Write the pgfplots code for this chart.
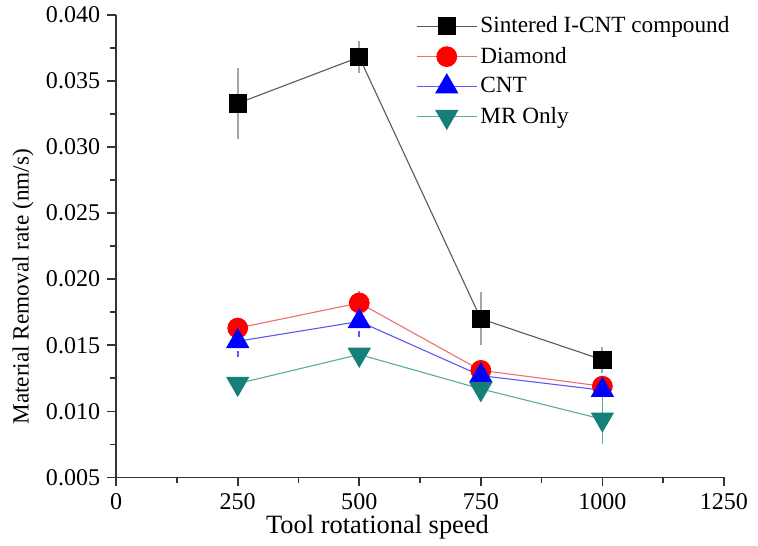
\documentclass[border=0pt]{standalone}
\usepackage{fontspec}
\setmainfont{Liberation Serif}
\usepackage{pgfplots}
\pgfplotsset{compat=1.18}

\definecolor{mrteal}{RGB}{22,128,120}
\definecolor{lred}{RGB}{240,110,110}
\definecolor{lblue}{RGB}{90,90,240}
\definecolor{lteal}{RGB}{90,170,160}

\begin{document}
\begin{tikzpicture}
\begin{axis}[
  scale only axis,
  width=303.5pt, height=231pt,
  xmin=0, xmax=1250, ymin=0.005, ymax=0.040,
  axis x line=bottom, axis y line=left,
  axis line style={-, line width=0.9pt, black!80},
  xtick={0,250,...,1250},
  ytick={0.005,0.010,...,0.0401},
  minor x tick num=1, minor y tick num=1,
  tick align=outside,
  major tick length=4.5pt, minor tick length=3pt,
  tick style={line width=0.8pt, black!80},
  scaled y ticks=false,
  /pgf/number format/assume math mode=true,
  yticklabel style={/pgf/number format/.cd, fixed, fixed zerofill, precision=3},
  xticklabel style={/pgf/number format/.cd, fixed, set thousands separator={}},
  ticklabel style={font=\fontsize{12}{14}\selectfont},
  xlabel={Tool rotational speed},
  ylabel={Material Removal rate (nm/s)},
  xlabel style={font=\fontsize{13.2}{15}\selectfont,
    at={(axis description cs:0.43,-0.1208)}, anchor=base},
  ylabel style={font=\fontsize{11.6}{14}\selectfont,
    at={(axis description cs:-0.1532,0.412)}, anchor=center},
  legend style={draw=none, fill=none, at={(0.493,1.014)}, anchor=north west,
    font=\fontsize{11.6}{13}\selectfont, row sep=1.6pt, inner xsep=0pt,
    nodes={inner xsep=1.5pt}},
  legend image code/.code={%
    \draw[mark repeat=2, mark phase=2] plot coordinates {(0pt,0pt) (15pt,0pt) (30pt,0pt)};},
  legend cell align=left,
  every axis plot/.append style={line width=0.55pt},
  error bars/y dir=both, error bars/y explicit,
  error bars/error mark=none,
]
% Sintered I-CNT compound
\addplot[black!65, mark=square*, mark size=4.3pt, mark options={black, solid},
  error bars/error bar style={gray!70, line width=1.1pt}]
  coordinates {
  (250,0.0333) +- (0,0.0027)
  (500,0.0368) +- (0,0.0012)
  (750,0.0170) +- (0,0.0020)
  (1000,0.0139) +- (0,0.0010)
};
\addlegendentry{Sintered I-CNT compound}
% Diamond
\addplot[lred, mark=*, mark size=4.9pt, mark options={red, solid},
  error bars/error bar style={lred, line width=0.8pt}]
  coordinates {
  (250,0.0163) +- (0,0.0006)
  (500,0.0182) +- (0,0.0009)
  (750,0.0131) +- (0,0.0005)
  (1000,0.0119) +- (0,0.0005)
};
\addlegendentry{Diamond}
% CNT
\addplot[lblue, mark=triangle*, mark size=6.2pt, mark options={blue, solid},
  error bars/error bar style={lblue, line width=0.8pt, densely dashed}]
  coordinates {
  (250,0.0153) +- (0,0.0012)
  (500,0.0168) +- (0,0.0012)
  (750,0.0127) +- (0,0.0006)
  (1000,0.0116) +- (0,0.0006)
};
\addlegendentry{CNT}
% MR only
\addplot[lteal, mark=triangle*, mark size=6.2pt, mark options={mrteal, solid, rotate=180},
  error bars/error bar style={lteal, line width=0.8pt}]
  coordinates {
  (250,0.0121) +- (0,0.0005)
  (500,0.0143) +- (0,0.0005)
  (750,0.0117) +- (0,0.0005)
  (1000,0.0094) +- (0,0.0019)
};
\addlegendentry{MR Only}
\end{axis}
\useasboundingbox (-58pt,-32pt) rectangle (320.5pt,238pt);
\end{tikzpicture}
\end{document}
